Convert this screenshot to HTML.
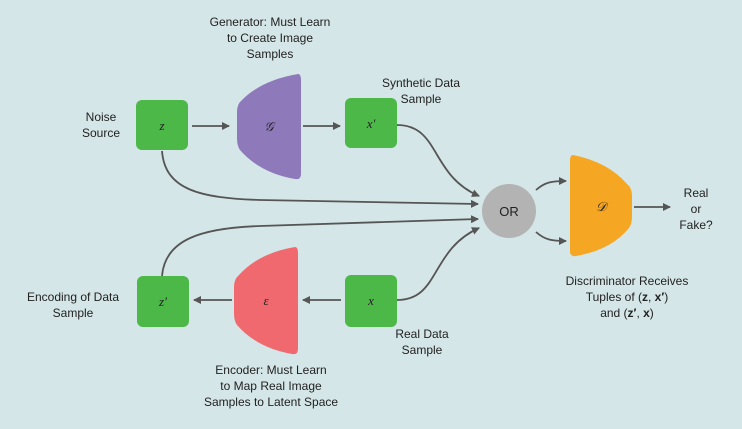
<!DOCTYPE html>
<html><head><style>
body{margin:0;width:742px;height:424px;background:#d5e6e8;overflow:hidden;font-family:"Liberation Sans",sans-serif;}
</style></head><body>
<svg width="742" height="424" viewBox="0 0 742 424" xmlns="http://www.w3.org/2000/svg" font-family="Liberation Sans, sans-serif" font-size="12" fill="#222">
<defs><marker id="a" markerWidth="8" markerHeight="8" refX="7" refY="4" orient="auto" markerUnits="userSpaceOnUse"><path d="M0,0 L8,4 L0,8z" fill="#555"/></marker></defs>
<g stroke="#555" stroke-width="1.8" fill="none" marker-end="url(#a)">
<path d="M192,126 H229"/>
<path d="M303,126 H340"/>
<path d="M162,151 C165,190 200,198 260,200 L478,204"/>
<path d="M397,125 C440,125 430,175 479,196"/>
<path d="M397,300 C440,300 430,250 479,228"/>
<path d="M162,276 C165,240 200,228 260,226 L478,219"/>
<path d="M536,190 C545,182 552,181 566,181"/>
<path d="M536,232 C545,240 552,241 566,241"/>
<path d="M634,207 H670"/>
<path d="M341,300 H303"/>
<path d="M232,300 H194"/>
</g>
<rect x="136" y="100" width="52" height="50" rx="6" fill="#4cb848"/>
<rect x="345" y="98" width="52" height="50" rx="6" fill="#4cb848"/>
<rect x="137" y="276" width="52" height="51" rx="6" fill="#4cb848"/>
<rect x="345" y="275" width="52" height="52" rx="6" fill="#4cb848"/>
<path d="M298,74 Q301,74 301,80 V174 Q301,180 295,179 Q260,173 240,150 Q237,146 237,138 V112 Q237,104 242,100 Q262,80 298,74z" fill="#8e79bb"/>
<path d="M295,247 Q298,247 298,253 V349 Q298,355 292,354 Q257,348 237,325 Q234,321 234,313 V287 Q234,279 239,275 Q259,253 295,247z" fill="#f0696e"/>
<path d="M573,155 Q570,155 570,161 V251 Q570,257 576,256 Q611,250 629,228 Q632,224 632,216 V196 Q632,188 627,184 Q608,162 573,155z" fill="#f5a623"/>
<circle cx="509" cy="211" r="27" fill="#b3b3b3"/>
<text x="509" y="216" text-anchor="middle" font-size="13">OR</text>
<g font-family="Liberation Serif, serif" font-style="italic" font-size="13" text-anchor="middle">
<text x="162" y="130">z</text><text x="371" y="128">x′</text><text x="163" y="306">z′</text><text x="371" y="305">x</text>
<text x="269" y="131">𝒢</text><text x="266" y="305">ε</text><text x="601" y="211">𝒟</text>
</g>
<g text-anchor="middle">
<text x="270" y="26">Generator: Must Learn</text><text x="270" y="42">to Create Image</text><text x="270" y="58">Samples</text>
<text x="421" y="87">Synthetic Data</text><text x="421" y="103">Sample</text>
<text x="101" y="121">Noise</text><text x="101" y="137">Source</text>
<text x="696" y="197">Real</text><text x="696" y="213">or</text><text x="696" y="229">Fake?</text>
<text x="627" y="285">Discriminator Receives</text><text x="627" y="301">Tuples of (<tspan font-weight="bold">z</tspan>, <tspan font-weight="bold">x′</tspan>)</text><text x="627" y="317">and (<tspan font-weight="bold">z′</tspan>, <tspan font-weight="bold">x</tspan>)</text>
<text x="73" y="301">Encoding of Data</text><text x="73" y="317">Sample</text>
<text x="422" y="338">Real Data</text><text x="422" y="354">Sample</text>
<text x="271" y="374">Encoder: Must Learn</text><text x="271" y="390">to Map Real Image</text><text x="271" y="406">Samples to Latent Space</text>
</g>
</svg>
</body></html>
